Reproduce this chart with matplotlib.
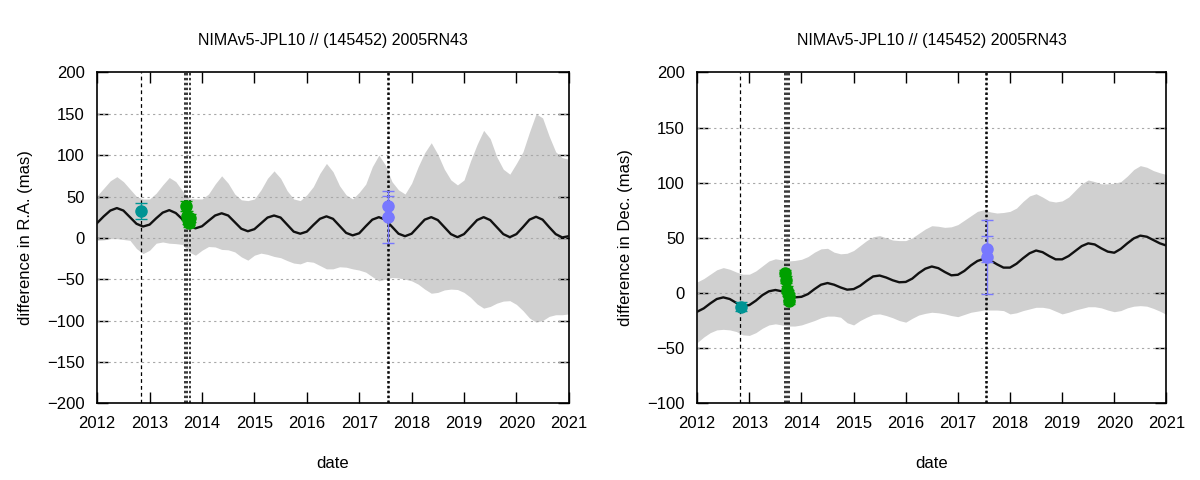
import numpy as np
import matplotlib
matplotlib.use("Agg")
import matplotlib.pyplot as plt

plt.rcParams['font.family'] = ['Liberation Sans', 'DejaVu Sans']

TITLE = "NIMAv5-JPL10 // (145452) 2005RN43"

# sampling dates of the model curves (every 1/8 year, 2012.0 .. 2021.0)
dates = 2012 + 0.125 * np.arange(73)

# ---- R.A. panel ----
ra_mid = [18, 26, 33, 36, 33, 25, 17, 13.7,
          16, 23.6, 30.5, 33.5, 30, 22.5, 15, 11.5,
          14, 20.6, 27, 29.7, 27, 19, 11, 8,
          10.5, 17.5, 24.5, 27, 24.5, 16, 7.5, 5,
          7.5, 15.5, 23, 26, 23, 14.5, 6, 3,
          5.5, 14, 22, 25, 22, 13.5, 5, 2,
          5, 13.5, 22, 25, 21.5, 13, 4.5, 0.8,
          4.5, 13, 21.5, 25, 21.5, 13, 4.5, 0.8,
          4.5, 13, 22, 25.5, 22, 13, 4.5, 0.5,
          2]
ra_hi = [51, 60, 69, 74, 68, 59, 50, 47,
         47, 54, 64, 73, 68, 57, 48, 47,
         47, 53, 65, 75, 66, 53, 46, 45,
         47, 58, 72, 81, 72, 57, 47, 45,
         52, 62, 78, 90, 80, 63, 52, 47,
         55, 65, 86, 100, 88, 68, 58, 53,
         66, 86, 103, 115, 101, 83, 70, 64,
         70, 93, 113, 130, 120, 98, 83, 77,
         90, 104, 128, 150, 145, 123, 104, 97,
         95]
ra_lo = [-3, -2.5, -1, -1, -2, -3, -13, -19,
         -15, -6.5, -5, -6.5, -7, -8, -17, -21,
         -15, -10.5, -11, -14, -14.5, -17, -23, -27,
         -21, -18.5, -20, -22.5, -24, -27.5, -30.5, -31.5,
         -28.5, -29.5, -33.5, -37.5, -37.5, -35, -35.5, -37.5,
         -39, -41.5, -47, -52, -50, -48, -48.5, -50,
         -52, -56, -62, -67, -66, -63, -62, -62.5,
         -66, -72, -80, -85, -83, -79, -76.5, -76,
         -80.5, -88, -97, -102, -100, -95, -93, -93,
         -92]

# ---- Dec. panel ----
de_mid = [-17, -14, -9.5, -5.5, -4, -5.5, -9, -12,
          -11, -7, -2, 1.5, 2.7, 1.5, -1.5, -4,
          -3.5, -1, 3.5, 7.5, 9, 7.5, 5, 3,
          3.5, 6.5, 11, 15, 15.8, 14, 11.5, 9.7,
          10, 13, 18, 22, 24, 22.5, 19, 16,
          16.5, 20, 25, 29, 31, 29.5, 26, 23,
          23, 26.5, 31.5, 36, 38.5, 37, 33.5, 30.5,
          30.5, 33.5, 38, 42.5, 45, 44, 40.5, 37.5,
          36.5, 40, 45, 49.5, 52, 51, 48, 45,
          43]
de_hi = [10, 13, 17, 21, 23, 21.5, 19, 17,
         17, 20, 24.5, 29, 31, 30, 29, 29.5,
         30.5, 33, 37, 40, 40.5, 37, 35.5, 36,
         38.5, 43, 47.5, 51, 52, 50, 48, 47.5,
         47.5, 50, 54, 58, 61, 60.5, 59.5, 60,
         62, 66, 70, 74, 75.5, 73.5, 72.5, 73,
         74, 77, 83, 88, 90, 87, 83.5, 82.5,
         83.5, 87, 93, 99, 102.5, 101, 99, 99,
         99.5, 101, 106, 112, 115.5, 114, 111, 109,
         107.5]
de_lo = [-45, -40, -36, -33.5, -33, -33.5, -35, -38,
         -38.5, -36, -32, -29, -28, -29, -30, -30,
         -29, -27, -25, -22.5, -21, -21, -22, -27,
         -29, -25, -22, -19.5, -19, -20.5, -22.5, -25,
         -26.5, -23, -20, -18.5, -17.5, -18, -19, -20.5,
         -21.5, -19.5, -17.5, -16.5, -15.5, -15.5, -15.5, -16,
         -19, -18, -16, -14.5, -13, -13, -14, -16.5,
         -19, -17.5, -15.5, -14, -12.5, -12.5, -13.5, -15.5,
         -17, -16, -13.5, -12, -11.5, -12, -14, -16.5,
         -19.5]

# ---- observations (date, value, error) ----
teal_t = [2012.84]
teal_ra = [32.2];  teal_ra_err = [9.5]
teal_de = [-12.5]; teal_de_err = [4.2]

green_t = [2013.69, 2013.71, 2013.73, 2013.75, 2013.77, 2013.76]
green_ra = [38.5, 27, 22, 20, 24, 18]
green_ra_err = [6.5, 5, 5, 5, 5, 5]
green_de = [18, 12, 3, 0, -3, -7]
green_de_err = [3, 3, 3, 3, 3, 3]

blue_t = [2017.555, 2017.555]
blue_ra = [38, 25];  blue_ra_err = [12.4, 31.5]
blue_de = [40, 32.5]; blue_de_err = [12, 33.5]

# observation epochs (vertical markers)
first_epoch = 2012.83
other_epochs = [2013.675, 2013.72, 2013.765, 2017.548, 2017.56]

C_TEAL = "#009494"
C_GREEN = "#00a000"
C_BLUE = "#7878ff"


def panel(ax, mid, hi, lo, obs, ylim, ylabel):
    ax.fill_between(dates, lo, hi, color="#d0d0d0", lw=0, zorder=1)
    for y in np.arange(ylim[0] + 50, ylim[1], 50):
        ax.axhline(y, color="#a8a8a8", lw=0.8, ls=(0, (2, 3)), zorder=2)
    ax.axvline(first_epoch, color="black", lw=0.9, ls=(0, (3, 2.5)), zorder=3)
    for x in other_epochs:
        ax.axvline(x, color="black", lw=1.1, ls=(0, (1.6, 1.6)), zorder=3)
    ax.plot(dates, mid, color="#111111", lw=1.7, zorder=4)
    for (t, v, e), c in zip(obs, [C_TEAL, C_GREEN, C_BLUE]):
        ax.errorbar(t, v, yerr=e, fmt="o", color=c, ms=8, capsize=4,
                    elinewidth=1, capthick=1, zorder=5)
    ax.set_xlim(2012, 2021)
    ax.set_ylim(*ylim)
    ax.set_xticks(range(2012, 2022))
    ax.set_yticks(range(ylim[0], ylim[1] + 1, 50))
    ax.tick_params(direction="in", length=8, width=1, top=True, right=True,
                   labelsize=12, pad=9)
    for s in ax.spines.values():
        s.set_linewidth(1.2)
    ax.set_title(TITLE, fontsize=11.5, pad=20)
    ax.set_xlabel("date", fontsize=12, labelpad=18)
    ax.set_ylabel(ylabel, fontsize=12, labelpad=10)


fig = plt.figure(figsize=(12, 4.8), dpi=100)
ax1 = fig.add_axes([0.081, 0.160, 0.393, 0.689])
ax2 = fig.add_axes([0.581, 0.160, 0.391, 0.689])

panel(ax1, ra_mid, ra_hi, ra_lo,
      [(teal_t, teal_ra, teal_ra_err), (green_t, green_ra, green_ra_err),
       (blue_t, blue_ra, blue_ra_err)],
      (-200, 200), "difference in R.A. (mas)")
panel(ax2, de_mid, de_hi, de_lo,
      [(teal_t, teal_de, teal_de_err), (green_t, green_de, green_de_err),
       (blue_t, blue_de, blue_de_err)],
      (-100, 200), "difference in Dec. (mas)")

fig.savefig("out.png", dpi=100)
